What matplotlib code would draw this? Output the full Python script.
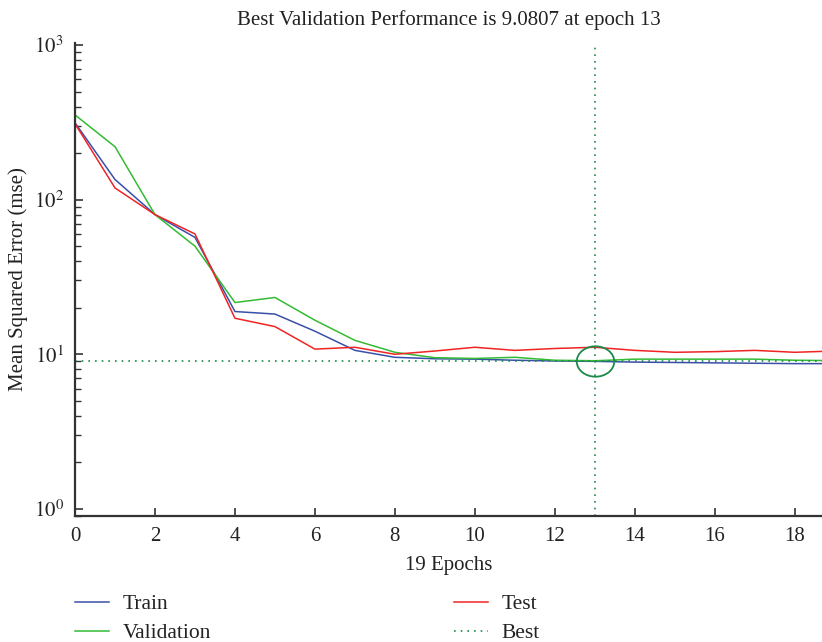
import matplotlib
matplotlib.use("Agg")
import matplotlib.pyplot as plt
from matplotlib.path import Path
import numpy as np

epochs = list(range(20))
train = [314, 135, 80, 57, 18.9, 18.2, 14.1, 10.6, 9.56, 9.35, 9.3, 9.15, 9.05, 9.0, 8.9, 8.85, 8.8, 8.75, 8.7, 8.7]
validation = [353, 220, 80, 50, 21.6, 23.3, 16.6, 12.3, 10.3, 9.5, 9.4, 9.56, 9.15, 9.0807, 9.3, 9.3, 9.3, 9.3, 9.15, 9.1]
test = [310, 119, 80, 60, 17.1, 15.1, 10.8, 11.1, 10.0, 10.5, 11.1, 10.6, 10.9, 11.1, 10.6, 10.3, 10.4, 10.6, 10.3, 10.5]
best_epoch = 13
best_value = 9.0807
xticks = [0, 2, 4, 6, 8, 10, 12, 14, 16, 18]

plt.rcParams['font.family'] = ['Liberation Serif', 'DejaVu Serif']
plt.rcParams['mathtext.fontset'] = 'stix'

fig = plt.figure(figsize=(8.22, 6.42), dpi=100)
ax = fig.add_axes([75/822, 1-516/642, 1-75/822, (516-43)/642])

c_train = '#3a4fa8'
c_val = '#33bb33'
c_test = '#f02424'
c_best = '#1a8a4a'
dots = (0, (1, 3))

l1, = ax.plot(epochs, train, color=c_train, lw=1.1, label='Train')
l2, = ax.plot(epochs, validation, color=c_val, lw=1.1, label='Validation')
l3, = ax.plot(epochs, test, color=c_test, lw=1.1, label='Test')
ax.axhline(best_value, color=c_best, ls=dots, lw=1.2)
ax.axvline(best_epoch, color=c_best, ls=dots, lw=1.2)
l4, = ax.plot([], [], color=c_best, ls=dots, lw=1.2, label='Best')

circ = Path.unit_circle()
ell = Path(circ.vertices * np.array([1.0, 0.81]), circ.codes)
ax.plot([best_epoch], [best_value], marker=ell, markersize=27, mfc='none',
        mec=c_best, mew=1.3, ls='none')

ax.set_yscale('log')
ax.set_ylim(0.9, 1030)
ax.set_xlim(0, 18.68)
ax.set_xticks(xticks)
ax.set_xticklabels([str(t) for t in xticks])
ax.set_yticks([1, 10, 100, 1000])
ax.set_yticklabels([r'$10^{0}$', r'$10^{1}$', r'$10^{2}$', r'$10^{3}$'])

for s in ['top', 'right']:
    ax.spines[s].set_visible(False)
for s in ['left', 'bottom']:
    ax.spines[s].set_color('#333333')
    ax.spines[s].set_linewidth(1.6)

ax.tick_params(axis='both', which='major', direction='in', length=6, width=1.2,
               color='#333333', labelsize=15, labelcolor='#222222', pad=8)
ax.tick_params(axis='y', which='minor', direction='in', length=4, width=1.0, color='#333333')
ax.tick_params(axis='x', which='minor', bottom=False)

ax.set_title('Best Validation Performance is 9.0807 at epoch 13', fontsize=15,
             color='#222222', pad=13)
ax.set_xlabel('19 Epochs', fontsize=15, color='#222222', labelpad=7)
ax.set_ylabel('Mean Squared Error (mse)', fontsize=15, color='#222222', labelpad=4)

leg = fig.legend(handles=[l1, l2, l3, l4], loc='upper left', bbox_to_anchor=(75/822, 1-594/642),
                 ncol=2, frameon=False, fontsize=15.5, handlelength=1.6, borderpad=0,
                 borderaxespad=0, columnspacing=11.3, labelspacing=0.42, handletextpad=0.6)
for t in leg.get_texts():
    t.set_color('#222222')

fig.savefig('out.png', dpi=100)
